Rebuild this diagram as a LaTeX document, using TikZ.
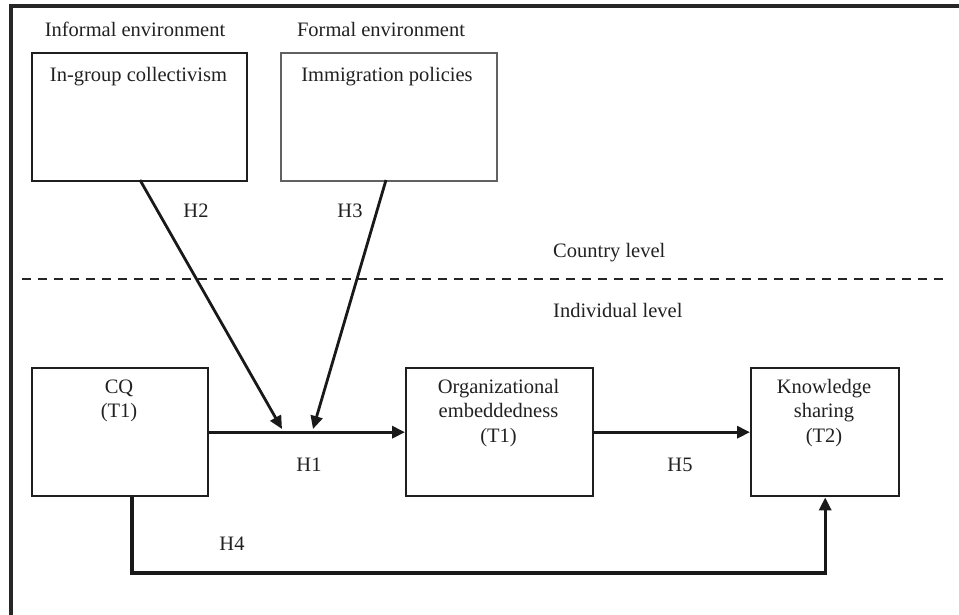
\documentclass[tikz,border=0pt]{standalone}
\usepackage{fontspec}
\setmainfont{Liberation Serif}
\usetikzlibrary{arrows.meta}
\begin{document}
\begin{tikzpicture}[x=1pt,y=-1pt,
  box/.style={draw=black!88, line width=2.4pt, minimum width=#1, minimum height=128pt, inner sep=0pt, anchor=north west},
  txt/.style={font=\fontsize{20.5}{24.6}\selectfont, text=black!87, inner sep=0pt, align=center, anchor=base},
  lvl/.style={font=\fontsize{20.5}{24.6}\selectfont, text=black!87, inner sep=0pt, anchor=base west},
  conn/.style={line width=3.2pt, draw=black!90, -{Triangle[length=13pt,width=12pt]}},
]
\useasboundingbox (0,0) rectangle (959,615);
% outer frame (top and left edges only)
\coordinate (fbl) at (11,615);
\coordinate (ftl) at (11,6);
\coordinate (ftr) at (959,6);
\draw[line width=3.2pt, black!85] (fbl) -- (ftl) -- (ftr);

% boxes
\node[box=215pt] (igc) at (31,52) {};
\node[box=216pt, draw=black!62] (imm) at (280,52) {};
\node[box=176pt] (cq) at (31,367) {};
\node[box=187pt] (oe) at (405,367) {};
\node[box=148pt] (ks) at (750,367) {};

% texts (base anchor = baseline of the last line)
\node[txt] (tinf) at (135,37) {Informal environment};
\node[txt] (tfor) at (381,37) {Formal environment};
\node[txt] (tigc) at (138.5,82) {In-group collectivism};
\node[txt] (timm) at (387,82) {Immigration policies};
\node[txt] (tcq) at (119,417.6) {CQ\\(T1)};
\node[txt] (toe) at (498.5,442.2) {Organizational\\embeddedness\\(T1)};
\node[txt] (tks) at (824,442.2) {Knowledge\\sharing\\(T2)};

\node[lvl] (country) at (553,257) {Country level};
\node[lvl] (indiv) at (553,317) {Individual level};

% dashed separator
\coordinate (dl) at (22,279);
\coordinate (dr) at (945,279);
\draw[line width=1.8pt, black!85, dash pattern=on 9pt off 7pt] (dl) -- (dr);

% hypothesis labels
\node[txt] (h1) at (309,471) {H1};
\node[txt] (h2) at (196,218) {H2};
\node[txt] (h3) at (350,218) {H3};
\node[txt] (h4) at (232,550) {H4};
\node[txt] (h5) at (680,471) {H5};

% connectors
\coordinate (s1) at (140,180);
\coordinate (s2) at (386,180);
\coordinate (j1) at (282,429);
\coordinate (j2) at (313,429);
\coordinate (h4c) at (132,573);
\draw[conn] (cq.east) -- (oe.west);
\draw[conn] (oe.east) -- (ks.west);
\draw[conn, line width=2.8pt] (s1) -- (j1);
\draw[conn, line width=2.8pt] (s2) -- (j2);
\draw[conn] (cq.south -| h4c) -- (h4c) -| (ks.south);
\end{tikzpicture}
\end{document}
